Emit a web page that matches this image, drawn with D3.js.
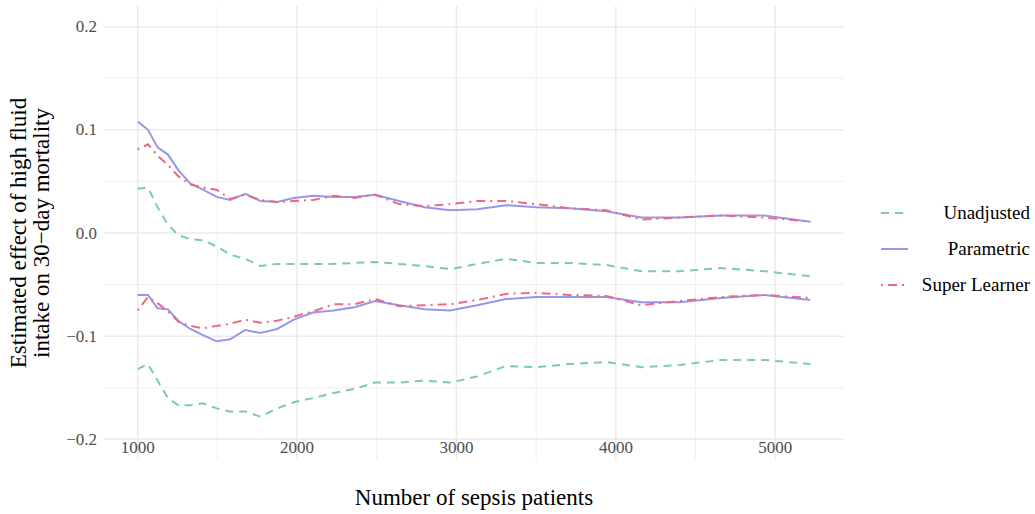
<!DOCTYPE html>
<html lang="en">
<head>
<meta charset="UTF-8">
<title>Sepsis fluid effect</title>
<script src="https://d3js.org/d3.v7.min.js"></script>
<style>
  body { margin: 0; background: #fff; }
  text { font-family: "Liberation Serif", "DejaVu Serif", serif; }
</style>
</head>
<body>
<div id="chart"></div>
<script>
// sample sizes where the estimates were computed
const patients = [1000, 1065, 1125, 1190, 1255, 1330, 1410, 1495, 1580, 1675, 1770, 1875, 1980, 2100, 2230,
                  2360, 2490, 2640, 2800, 2960, 3130, 3310, 3500, 3710, 3940, 4160, 4400, 4660, 4930, 5220];

// upper / lower bounds for each method
const unadjHi = [0.043, 0.044, 0.025, 0.008, -0.002, -0.006, -0.007, -0.013, -0.021, -0.025, -0.032, -0.030, -0.030, -0.030, -0.030,
                 -0.029, -0.028, -0.030, -0.032, -0.035, -0.030, -0.025, -0.029, -0.029, -0.031, -0.037, -0.037, -0.034, -0.037, -0.042];
const unadjLo = [-0.132, -0.127, -0.143, -0.160, -0.167, -0.167, -0.165, -0.170, -0.173, -0.173, -0.178, -0.170, -0.164, -0.160, -0.155,
                 -0.151, -0.145, -0.145, -0.143, -0.145, -0.139, -0.129, -0.130, -0.127, -0.125, -0.130, -0.128, -0.123, -0.123, -0.127];
const paramHi = [0.108, 0.100, 0.083, 0.076, 0.061, 0.048, 0.042, 0.035, 0.032, 0.038, 0.031, 0.030, 0.034, 0.036, 0.035,
                 0.035, 0.037, 0.031, 0.025, 0.022, 0.023, 0.027, 0.025, 0.024, 0.021, 0.015, 0.015, 0.017, 0.017, 0.011];
const paramLo = [-0.060, -0.060, -0.073, -0.074, -0.085, -0.093, -0.099, -0.105, -0.103, -0.094, -0.097, -0.093, -0.084, -0.077, -0.075,
                 -0.072, -0.066, -0.070, -0.074, -0.075, -0.070, -0.064, -0.062, -0.062, -0.062, -0.067, -0.067, -0.063, -0.060, -0.065];
const slHi = [0.081, 0.086, 0.075, 0.066, 0.055, 0.047, 0.044, 0.042, 0.033, 0.037, 0.032, 0.030, 0.031, 0.032, 0.036,
              0.034, 0.037, 0.028, 0.026, 0.028, 0.031, 0.031, 0.028, 0.024, 0.022, 0.013, 0.015, 0.017, 0.015, 0.011];
const slLo = [-0.075, -0.062, -0.068, -0.076, -0.086, -0.090, -0.0925, -0.090, -0.088, -0.084, -0.087, -0.085, -0.081, -0.076, -0.069,
              -0.069, -0.064, -0.071, -0.070, -0.069, -0.065, -0.059, -0.058, -0.060, -0.061, -0.070, -0.066, -0.062, -0.060, -0.063];

const methods = ["Unadjusted", "Parametric", "Super Learner"];
const xTicks = [1000, 2000, 3000, 4000, 5000];
const yTicks = [-0.2, -0.1, 0.0, 0.1, 0.2];

const series = [
  { method: "Unadjusted", values: unadjHi },
  { method: "Unadjusted", values: unadjLo },
  { method: "Parametric", values: paramHi },
  { method: "Parametric", values: paramLo },
  { method: "Super Learner", values: slHi },
  { method: "Super Learner", values: slLo }
];

const W = 1035, H = 514;
const panel = { left: 104, right: 844, top: 6, bottom: 460 };

const color = d3.scaleOrdinal().domain(methods).range(["#7acf9f", "#9797ea", "#ee6880"]);
const dash = d3.scaleOrdinal().domain(methods).range(["8,6", null, "2,5,9,5"]);

const x = d3.scaleLinear().domain([789, 5431]).range([panel.left, panel.right]);
const y = d3.scaleLinear().domain([-0.22, 0.22]).range([panel.bottom, panel.top]);

const svg = d3.select("#chart").append("svg")
    .attr("width", W).attr("height", H);

// grid (minor first, then major)
const minorX = [1500, 2500, 3500, 4500];
const minorY = [-0.15, -0.05, 0.05, 0.15];
const grid = svg.append("g");
grid.selectAll(".mx").data(minorX).join("line")
    .attr("x1", d => x(d)).attr("x2", d => x(d))
    .attr("y1", panel.top).attr("y2", panel.bottom)
    .attr("stroke", "#ebebeb").attr("stroke-width", 0.8);
grid.selectAll(".my").data(minorY).join("line")
    .attr("y1", d => y(d)).attr("y2", d => y(d))
    .attr("x1", panel.left).attr("x2", panel.right)
    .attr("stroke", "#ebebeb").attr("stroke-width", 0.8);
grid.selectAll(".Mx").data(xTicks).join("line")
    .attr("x1", d => x(d)).attr("x2", d => x(d))
    .attr("y1", panel.top).attr("y2", panel.bottom)
    .attr("stroke", "#ebebeb").attr("stroke-width", 1.5);
grid.selectAll(".My").data(yTicks).join("line")
    .attr("y1", d => y(d)).attr("y2", d => y(d))
    .attr("x1", panel.left).attr("x2", panel.right)
    .attr("stroke", "#ebebeb").attr("stroke-width", 1.5);

// tick labels
svg.append("g").selectAll("text").data(xTicks).join("text")
    .attr("x", d => x(d)).attr("y", 453)
    .attr("text-anchor", "middle")
    .attr("fill", "#4d4d4d").style("font-size", "17px")
    .text(d => d);
svg.append("g").selectAll("text").data(yTicks).join("text")
    .attr("x", 97).attr("y", d => y(d) + 5.5)
    .attr("text-anchor", "end")
    .attr("fill", "#4d4d4d").style("font-size", "17px")
    .text(d => d3.format(".1f")(d).replace("-", "\u2212"));

// lines
const line = d3.line()
    .x((d, i) => x(patients[i]))
    .y(d => y(d));

svg.append("g").selectAll("path").data(series).join("path")
    .attr("d", d => line(d.values))
    .attr("fill", "none")
    .attr("stroke", d => color(d.method))
    .attr("stroke-width", 2)
    .attr("stroke-dasharray", d => dash(d.method));

// axis titles
svg.append("text")
    .attr("x", (panel.left + panel.right) / 2).attr("y", 505)
    .attr("text-anchor", "middle")
    .style("font-size", "23px")
    .text("Number of sepsis patients");

const yt = svg.append("text")
    .attr("transform", `translate(0,${y(0)}) rotate(-90)`)
    .attr("text-anchor", "middle")
    .style("font-size", "23px");
yt.append("tspan").attr("x", 0).attr("y", 26).text("Estimated effect of high fluid");
yt.append("tspan").attr("x", 0).attr("y", 49).text("intake on 30\u2212day mortality");

// legend
const legend = svg.append("g").selectAll("g").data(methods).join("g")
    .attr("transform", (d, i) => `translate(0,${213 + i * 36})`);
legend.append("line")
    .attr("x1", 881).attr("x2", 908)
    .attr("stroke", d => color(d))
    .attr("stroke-width", 2)
    .attr("stroke-dasharray", d => dash(d));
legend.append("text")
    .attr("x", 1030).attr("y", 6)
    .attr("text-anchor", "end")
    .style("font-size", "19px")
    .text(d => d);
</script>
</body>
</html>
